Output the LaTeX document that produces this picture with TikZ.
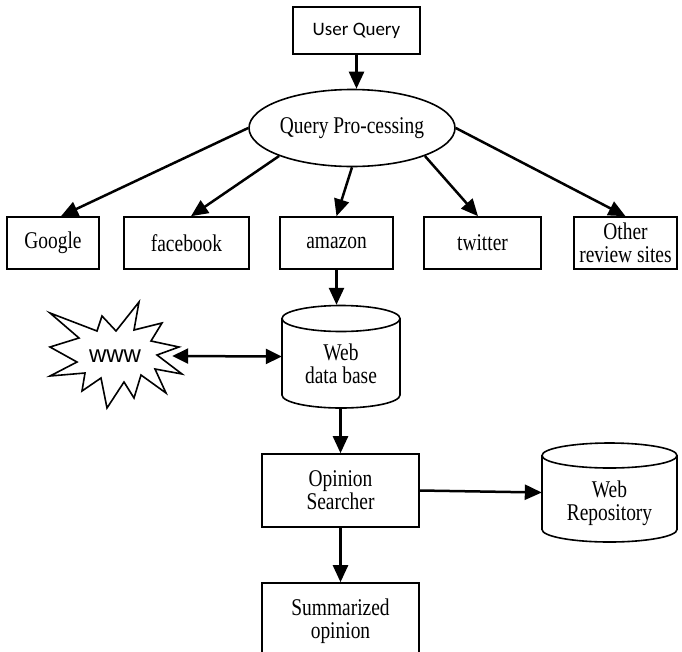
\documentclass[tikz,border=0pt]{standalone}
\usepackage{fontspec}
\setmainfont{Liberation Serif}[FakeStretch=0.81]
\newfontfamily\uqfont{Carlito}
\newfontfamily\wwwfont{Liberation Sans}
\usetikzlibrary{arrows.meta,shapes.geometric,calc}
\tikzset{
  boxnode/.style={draw, line width=1.6pt, rectangle, inner sep=0pt, align=center,
    font=\fontsize{24}{23}\selectfont},
  txtnode/.style={inner sep=0pt, align=center, font=\fontsize{24}{23}\selectfont},
  arr/.style={line width=2.5pt, -{Triangle[length=17pt,width=15pt]}},
  darr/.style={line width=2.5pt, {Triangle[length=16pt,width=15pt]}-{Triangle[length=16pt,width=15pt]}},
  cyl/.style={line width=1.6pt},
  ghost/.style={inner sep=0pt, draw=none}
}
\begin{document}
\begin{tikzpicture}[x=1pt,y=-1pt]
\useasboundingbox (0,0) rectangle (682,651);
\clip (0,0) rectangle (682,651);
\fill[white] (0,0) rectangle (682,651);

% top
\node[boxnode, minimum width=127pt, minimum height=47pt, font=\uqfont\fontsize{19}{21}\selectfont] (uq) at (356.5,30.5) {User Query};
\node[draw, ellipse, line width=1.6pt, inner sep=0pt, minimum width=206pt, minimum height=77pt,
  font=\fontsize{24}{23}\selectfont] (qp) at (352,128) {Query Pro-cessing};

% row of sites
\node[boxnode, minimum width=92pt, minimum height=52pt] (google) at (53,243) {Google};
\node[boxnode, minimum width=125pt, minimum height=52pt] (facebook) at (186.5,243) {facebook};
\node[boxnode, minimum width=113pt, minimum height=52pt] (amazon) at (336.5,243) {amazon};
\node[boxnode, minimum width=117pt, minimum height=52pt] (twitter) at (482.5,243) {twitter};
\node[boxnode, minimum width=103pt, minimum height=52pt] (other) at (625.5,243) {Other\\review sites};

% web data base cylinder
\node[ghost, minimum width=118pt, minimum height=103pt] (wdb) at (341,356.5) {};
\draw[cyl] (341,318.5) ellipse [x radius=59, y radius=13];
\draw[cyl] (282,318.5) -- (282,395) arc[start angle=180, end angle=0, x radius=59, y radius=13] -- (400,318.5);
\node[txtnode] (wdbtxt) at (341,364) {Web\\data base};

% www starburst
\draw[line width=1.6pt, line join=miter, fill=white]
  (50,313) -- (97,331) -- (102,316) -- (116,331) -- (139,302) -- (134,330) -- (162,323)
  -- (151,341) -- (179,347) -- (157,355) -- (182,374) -- (155,369) -- (166,393)
  -- (141,375) -- (134,398) -- (124,382) -- (107,408) -- (101,378) -- (82,391)
  -- (85,373) -- (50,376) -- (77,362) -- (50,347) -- (79,338) -- cycle;
\node[ghost, minimum width=114pt, minimum height=20pt, font=\wwwfont\fontsize{24}{25}\selectfont] (www) at (115,356) {www};

% opinion searcher
\node[boxnode, minimum width=157pt, minimum height=73pt] (os) at (340.5,490.5) {Opinion\\Searcher};

% web repository cylinder
\node[ghost, minimum width=135pt, minimum height=99pt] (wr) at (609.5,492.5) {};
\draw[cyl] (609.5,455.5) ellipse [x radius=67.5, y radius=12.5];
\draw[cyl] (542,455.5) -- (542,529.5) arc[start angle=180, end angle=0, x radius=67.5, y radius=12.5] -- (677,455.5);
\node[txtnode] (wrtxt) at (609.5,503.5) {Web\\Repository};

% summarized opinion (cut at the bottom)
\node[boxnode, minimum width=157pt, minimum height=76pt] (summ) at (340.5,621) {Summarized\\opinion};

% connectors
\draw[arr] (uq.south) -- (uq.south |- qp.north);
\draw[arr] (qp.west) -- ([xshift=8pt]google.north);
\draw[arr] (qp.201) -- ([xshift=4.5pt]facebook.north);
\draw[arr] (qp.south) -- (amazon.north);
\draw[arr] (qp.339) -- ([xshift=-4.5pt]twitter.north);
\draw[arr] (qp.east) -- (other.north);
\draw[arr] (amazon.south) -- (amazon.south |- wdb.north);
\draw[darr] (www.east) -- (wdb.west);
\draw[arr] (os.north |- wdb.south) -- (os.north);
\draw[arr] (os.east) -- (wr.west);
\draw[arr] (os.south) -- (summ.north);
\end{tikzpicture}
\end{document}
